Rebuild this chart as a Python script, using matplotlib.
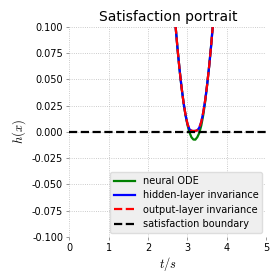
import numpy as np
import matplotlib
matplotlib.use("Agg")
import matplotlib.pyplot as plt

plt.rcParams['mathtext.fontset'] = 'cm'

# time samples (s) around the dip
t = [2.65, 2.70, 2.75, 2.80, 2.85, 2.90, 2.95, 3.00, 3.05, 3.10, 3.15,
     3.20, 3.25, 3.30, 3.35, 3.40, 3.45, 3.50, 3.55, 3.60, 3.65, 3.70]

h_ode = [0.1234, 0.0994, 0.0779, 0.0588, 0.0421, 0.0278, 0.0159, 0.0065,
         -0.0005, -0.0051, -0.0073, -0.0074, -0.0050, -0.0010, 0.0060,
         0.0160, 0.0290, 0.0452, 0.0624, 0.0820, 0.1040, 0.1285]
h_hidden = [0.1234, 0.0994, 0.0779, 0.0588, 0.0421, 0.0278, 0.0162, 0.0075,
            0.0025, 0.0010, 0.0008, 0.0009, 0.0015, 0.0040, 0.0095,
            0.0185, 0.0304, 0.0452, 0.0624, 0.0820, 0.1040, 0.1285]
h_output = [0.1234, 0.0994, 0.0779, 0.0588, 0.0421, 0.0278, 0.0162, 0.0075,
            0.0025, 0.0010, 0.0008, 0.0009, 0.0015, 0.0040, 0.0095,
            0.0185, 0.0304, 0.0452, 0.0624, 0.0820, 0.1040, 0.1285]

t_range = [0, 5]
boundary = [0, 0]

fig = plt.figure(figsize=(2.8, 2.8), dpi=100)
ax = fig.add_axes([0.2475, 0.1536, 0.7035, 0.751])

ax.plot(t, h_ode, color='green', lw=1.6, label='neural ODE')
ax.plot(t, h_hidden, color='blue', lw=1.6, label='hidden-layer invariance')
ax.plot(t, h_output, color='red', lw=1.6, ls='--', label='output-layer invariance')
ax.plot(t_range, boundary, color='black', lw=1.6, ls='--', label='satisfaction boundary')

ax.set_xlim(0, 5)
ax.set_ylim(-0.1, 0.1)
ax.set_xticks([0, 1, 2, 3, 4, 5])
ax.set_yticks([-0.1, -0.075, -0.05, -0.025, 0, 0.025, 0.05, 0.075, 0.1])
ax.yaxis.set_major_formatter(matplotlib.ticker.FormatStrFormatter('%.3f'))
ax.tick_params(labelsize=7, length=2.5, width=0.6, color='#888888', pad=2)
for s in ax.spines.values():
    s.set_visible(False)
ax.grid(True, ls=':', lw=0.6, color='#bbbbbb')

ax.set_title('Satisfaction portrait', fontsize=10, pad=4)
ax.set_xlabel('$t/s$', fontsize=9, labelpad=1)
ax.set_ylabel('$h(x)$', fontsize=9, labelpad=3)

leg = ax.legend(loc='lower right', fontsize=7, handlelength=2.2,
                borderaxespad=0.4, labelspacing=0.45, handletextpad=0.8,
                fancybox=True)
leg.get_frame().set_facecolor('#efefef')
leg.get_frame().set_edgecolor('#dddddd')
leg.get_frame().set_alpha(1.0)

fig.savefig('out.png', dpi=100)
